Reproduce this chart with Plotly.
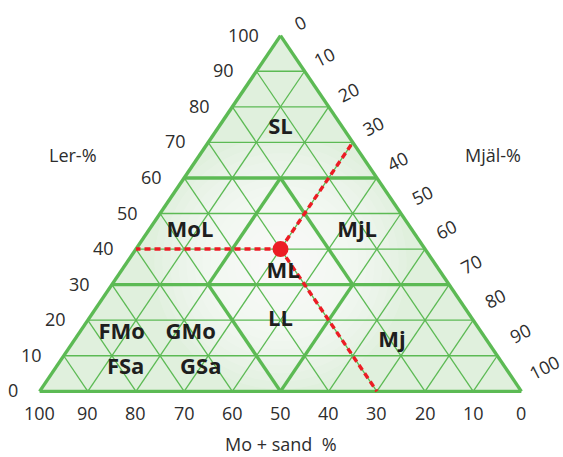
import plotly.graph_objects as go

# ---------------- data ----------------
ticks = [0, 10, 20, 30, 40, 50, 60, 70, 80, 90, 100]
grid_steps = [10, 20, 30, 40, 50, 60, 70, 80, 90]
thick_clay_levels = [30, 60]
# thick class boundaries inside the triangle (clay, sand) -> (clay, sand)
seg_a_clay = [60, 60, 30, 30]
seg_a_sand = [20, 20, 50, 20]
seg_b_clay = [30, 30, 0, 0]
seg_b_sand = [50, 20, 50, 50]

class_names = ["SL", "MoL", "MjL", "ML", "LL", "FMo", "GMo", "FSa", "GSa", "Mj"]
class_clay = [74, 44.8, 44.8, 33.5, 20, 16.3, 16.3, 6.5, 6.5, 14.1]
class_sand = [13, 46.4, 11.7, 32.7, 40, 74.8, 60.5, 78.9, 63.3, 19.8]

sample_clay = 40
sample_sand = 30
sample_silt = 30

GREEN = "rgb(92,186,84)"
RED = "rgb(236,28,36)"
TXT = "rgb(45,45,45)"
FONT = "Open Sans"


def xy(clay, sand):
    """ternary (clay, sand, silt) -> cartesian; x axis = Mo+sand (reversed)."""
    return sand + clay / 2.0, clay


def seg_trace(pairs, width, color, dash=None):
    xs, ys = [], []
    for (c1, s1), (c2, s2) in pairs:
        x1, y1 = xy(c1, s1)
        x2, y2 = xy(c2, s2)
        xs += [x1, x2, None]
        ys += [y1, y2, None]
    return go.Scatter(x=xs, y=ys, mode="lines", hoverinfo="skip",
                      line=dict(color=color, width=width, dash=dash),
                      showlegend=False)


fig = go.Figure()

# thin grid
thin = []
for v in grid_steps:
    thin.append(((v, 100 - v), (v, 0)))            # constant clay
    thin.append(((100 - v, v), (0, v)))            # constant sand
    thin.append(((100 - v, 0), (0, 100 - v)))      # constant silt
fig.add_trace(seg_trace(thin, 1.3, GREEN))

# thick boundaries
thick = [((c, 100 - c), (c, 0)) for c in thick_clay_levels]
for i in range(len(seg_a_clay)):
    thick.append(((seg_a_clay[i], seg_a_sand[i]), (seg_b_clay[i], seg_b_sand[i])))
thick += [((0, 100), (0, 0)), ((0, 0), (100, 0)), ((100, 0), (0, 100))]
fig.add_trace(seg_trace(thick, 3.4, GREEN))

# red guide lines from sample point
red = [
    ((sample_clay, sample_sand), (sample_clay, 100 - sample_clay)),          # to Ler axis
    ((sample_clay, sample_sand), (100 - sample_silt, 0)),                    # to Mjäl axis
    ((sample_clay, sample_sand), (0, sample_sand)),                          # to Mo+sand axis
]
fig.add_trace(seg_trace(red, 3.4, RED, dash="6px,4px"))

px, py = xy(sample_clay, sample_sand)
fig.add_trace(go.Scatter(x=[px], y=[py], mode="markers", hoverinfo="skip",
                         marker=dict(color=RED, size=16), showlegend=False))

# class labels
cx, cy = zip(*[xy(c, s) for c, s in zip(class_clay, class_sand)])
fig.add_trace(go.Scatter(x=list(cx), y=list(cy), mode="text", text=class_names,
                         textposition="middle center", hoverinfo="skip",
                         textfont=dict(family=FONT, size=22, color="rgb(30,30,30)",
                                       weight="bold"),
                         showlegend=False))

# background fill with soft white centre
shapes = []
tri = [xy(0, 100), xy(0, 0), xy(100, 0)]
path = "M {} {} L {} {} L {} {} Z".format(*[v for p in tri for v in p])
shapes.append(dict(type="path", path=path, xref="x", yref="y", layer="below",
                   fillcolor="rgb(224,240,221)", line=dict(width=0)))
PXX, PXY = 4.81, 3.55  # pixels per unit (x, y)
cxc, cyc = 50, 36
for r in [126, 118, 110, 102, 94, 86, 78, 70, 62, 54, 46, 38, 30, 22, 14]:
    shapes.append(dict(type="circle", xref="x", yref="y", layer="below",
                       x0=cxc - r / PXX, x1=cxc + r / PXX,
                       y0=cyc - r / PXY, y1=cyc + r / PXY,
                       fillcolor="white", opacity=0.12, line=dict(width=0)))

ann = []
tf = dict(family=FONT, size=18, color=TXT)
for v in ticks:
    # Ler (left edge)
    x, y = xy(v, 100 - v)
    ann.append(dict(x=x, y=y, text=str(v), showarrow=False, xanchor="right",
                    yanchor="middle", xshift=-20, yshift=1, font=tf))
    # Mo + sand (bottom)
    x, y = xy(0, v)
    ann.append(dict(x=x, y=y, text=str(v), showarrow=False, xanchor="center",
                    yanchor="middle", yshift=-22, font=tf))
    # Mjäl (right edge), v = silt
    x, y = xy(100 - v, 0)
    ann.append(dict(x=x, y=y, text=str(v), showarrow=False, xanchor="center",
                    yanchor="middle", xshift=19 + 0.045 * v, yshift=13 + 0.11 * v,
                    textangle=-27, font=tf))

ann.append(dict(x=93, y=66.5, text="Ler-%", showarrow=False, font=tf))
ann.append(dict(x=5.8, y=66.5, text="Mjäl-%", showarrow=False, font=tf))
ann.append(dict(x=50, y=0, yshift=-53, text="Mo + sand\u00a0 %", showarrow=False,
                yanchor="middle", font=tf))

fig.update_layout(
    width=563, height=457,
    margin=dict(l=30.4, r=32.4, t=25.35, b=55.35),
    paper_bgcolor="white", plot_bgcolor="white",
    xaxis=dict(range=[102, -2], visible=False, fixedrange=True),
    yaxis=dict(range=[-3, 103], visible=False, fixedrange=True),
    shapes=shapes, annotations=ann, showlegend=False,
)

fig.write_html("out.html", config={"displayModeBar": False},
               post_script="document.body.style.margin='0';document.body.style.padding='0';")
